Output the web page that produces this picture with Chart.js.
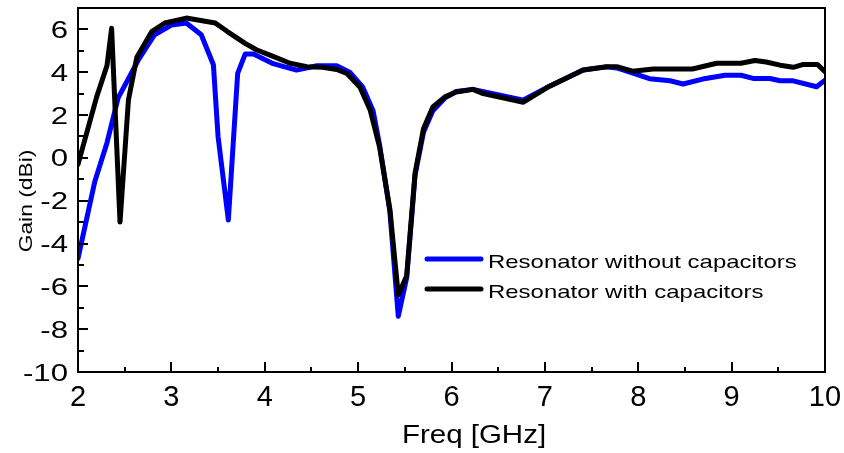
<!DOCTYPE html>
<html>
<head>
<meta charset="utf-8">
<script src="https://cdn.jsdelivr.net/npm/chart.js@4"></script>
<style>
  html, body { margin: 0; padding: 0; background: #fff; }
  canvas { display: block; }
</style>
</head>
<body>
<canvas id="gainChart" width="844" height="453"></canvas>
<script>
// resonator without capacitors (blue)
const freqNoCap = [2.00, 2.18, 2.31, 2.43, 2.54, 2.65, 2.82, 3.00, 3.16, 3.32, 3.45, 3.50, 3.61, 3.71, 3.79, 3.88,
    4.09, 4.34, 4.56, 4.77, 4.91, 5.05, 5.16, 5.23, 5.34, 5.43, 5.52, 5.61, 5.70, 5.80, 5.93, 6.05, 6.23, 6.77,
    7.05, 7.41, 7.66, 7.77, 7.91, 8.12, 8.34, 8.48, 8.69, 8.93, 9.10, 9.23, 9.41, 9.52, 9.66, 9.91, 10.0];
const gainNoCap = [-4.7, -1.1, 0.7, 2.8, 3.7, 4.6, 5.75, 6.2, 6.3, 5.75, 4.35, 1.0, -2.9, 3.95, 4.85, 4.85,
    4.4, 4.1, 4.3, 4.3, 4.0, 3.3, 2.2, 0.6, -2.5, -7.4, -5.6, -0.8, 1.2, 2.2, 2.8, 3.1, 3.2, 2.7,
    3.35, 4.1, 4.25, 4.2, 4.0, 3.7, 3.6, 3.45, 3.68, 3.86, 3.86, 3.71, 3.71, 3.6, 3.6, 3.32, 3.63];

// resonator with capacitors (black)
const freqCap = [2.00, 2.20, 2.31, 2.36, 2.45, 2.54, 2.63, 2.79, 2.93, 3.16, 3.47, 3.60, 3.79, 3.91, 4.09, 4.27,
    4.45, 4.62, 4.77, 4.88, 5.02, 5.13, 5.23, 5.34, 5.43, 5.52, 5.61, 5.70, 5.80, 5.93, 6.05, 6.23, 6.34, 6.77,
    7.05, 7.41, 7.66, 7.77, 7.94, 8.16, 8.58, 8.84, 9.10, 9.25, 9.37, 9.52, 9.66, 9.76, 9.92, 10.0];
const gainCap = [-0.3, 2.85, 4.3, 6.05, -3.0, 2.7, 4.7, 5.9, 6.3, 6.53, 6.3, 5.9, 5.35, 5.05, 4.74, 4.42,
    4.26, 4.23, 4.13, 3.94, 3.3, 2.22, 0.5, -2.4, -6.4, -5.5, -0.7, 1.36, 2.38, 2.85, 3.08, 3.2, 3.0, 2.6,
    3.35, 4.1, 4.26, 4.26, 4.05, 4.15, 4.15, 4.42, 4.42, 4.55, 4.48, 4.33, 4.23, 4.36, 4.36, 4.02];

const xTicks = [2, 3, 4, 5, 6, 7, 8, 9, 10];
const yTicks = [-10, -8, -6, -4, -2, 0, 2, 4, 6];
const seriesNames = ['Resonator without capacitors', 'Resonator with capacitors'];

const FONT = '"Liberation Sans", Arial, sans-serif';

function toPoints(xs, ys) {
    return xs.map((x, i) => ({ x: x, y: ys[i] }));
}

// text with a horizontal stretch, like the original export
function stretchedText(ctx, text, x, y, sx, align) {
    ctx.save();
    ctx.translate(x, y);
    ctx.scale(sx, 1);
    ctx.textAlign = align;
    ctx.fillText(text, 0, 0);
    ctx.restore();
}

const framePlugin = {
    id: 'frame',
    afterDatasetsDraw(chart) {
        const ctx = chart.ctx;
        const a = chart.chartArea;
        const xs = chart.scales.x;
        const ys = chart.scales.y;
        ctx.save();
        ctx.strokeStyle = '#000';
        ctx.lineWidth = 2;
        ctx.strokeRect(a.left, a.top, a.right - a.left, a.bottom - a.top);

        // inward ticks
        ctx.lineWidth = 2;
        ctx.beginPath();
        for (let v = 2; v <= 10; v += 0.5) {
            const px = Math.round(xs.getPixelForValue(v));
            const len = Number.isInteger(v) ? 10 : 5;
            ctx.moveTo(px, a.bottom);
            ctx.lineTo(px, a.bottom - len);
        }
        for (let v = -10; v <= 7; v++) {
            const py = Math.round(ys.getPixelForValue(v));
            const len = v % 2 === 0 ? 10 : 6;
            ctx.moveTo(a.left, py);
            ctx.lineTo(a.left + len, py);
        }
        ctx.stroke();
        ctx.restore();
    },
    afterDraw(chart) {
        const ctx = chart.ctx;
        const a = chart.chartArea;
        const xs = chart.scales.x;
        const ys = chart.scales.y;
        ctx.save();
        ctx.fillStyle = '#000';
        ctx.textBaseline = 'alphabetic';

        ctx.font = '24px ' + FONT;
        yTicks.forEach(v => {
            stretchedText(ctx, String(v), a.left - 10, ys.getPixelForValue(v) + 8.5, 1.3, 'right');
        });

        ctx.font = '29px ' + FONT;
        xTicks.forEach(v => {
            stretchedText(ctx, String(v), xs.getPixelForValue(v), 406, 1.0, 'center');
        });

        // axis titles
        ctx.font = '25px ' + FONT;
        stretchedText(ctx, 'Freq [GHz]', 474, 443, 1.18, 'center');

        ctx.save();
        ctx.translate(32, 201);
        ctx.rotate(-Math.PI / 2);
        ctx.font = '19px ' + FONT;
        stretchedText(ctx, 'Gain (dBi)', 0, 0, 1.2, 'center');
        ctx.restore();

        // legend inside the plot
        const rows = [259, 289];
        ctx.font = '19px ' + FONT;
        [0, 1].forEach(i => {
            const ds = chart.data.datasets.find(d => d.label === seriesNames[i]);
            ctx.strokeStyle = ds.borderColor;
            ctx.lineWidth = 5;
            ctx.lineCap = 'round';
            ctx.beginPath();
            ctx.moveTo(427, rows[i]);
            ctx.lineTo(481, rows[i]);
            ctx.stroke();
            stretchedText(ctx, ds.label, 488, rows[i] + 9, 1.26, 'left');
        });
        ctx.restore();
    }
};

const ctx = document.getElementById('gainChart').getContext('2d');
new Chart(ctx, {
    type: 'line',
    data: {
        datasets: [{
            label: seriesNames[1],
            data: toPoints(freqCap, gainCap),
            borderColor: '#000000',
            borderWidth: 5,
            order: 0
        }, {
            label: seriesNames[0],
            data: toPoints(freqNoCap, gainNoCap),
            borderColor: '#0000ff',
            borderWidth: 5,
            order: 1
        }]
    },
    options: {
        responsive: false,
        animation: false,
        devicePixelRatio: 1,
        layout: { padding: { left: 78, right: 19, top: 8, bottom: 81 } },
        elements: {
            point: { radius: 0 },
            line: { tension: 0, borderJoinStyle: 'round', borderCapStyle: 'round', fill: false }
        },
        plugins: {
            legend: { display: false },
            tooltip: { enabled: false }
        },
        scales: {
            x: { type: 'linear', min: 2, max: 10, display: false },
            y: { type: 'linear', min: -10, max: 7, display: false }
        }
    },
    plugins: [framePlugin]
});
</script>
</body>
</html>
